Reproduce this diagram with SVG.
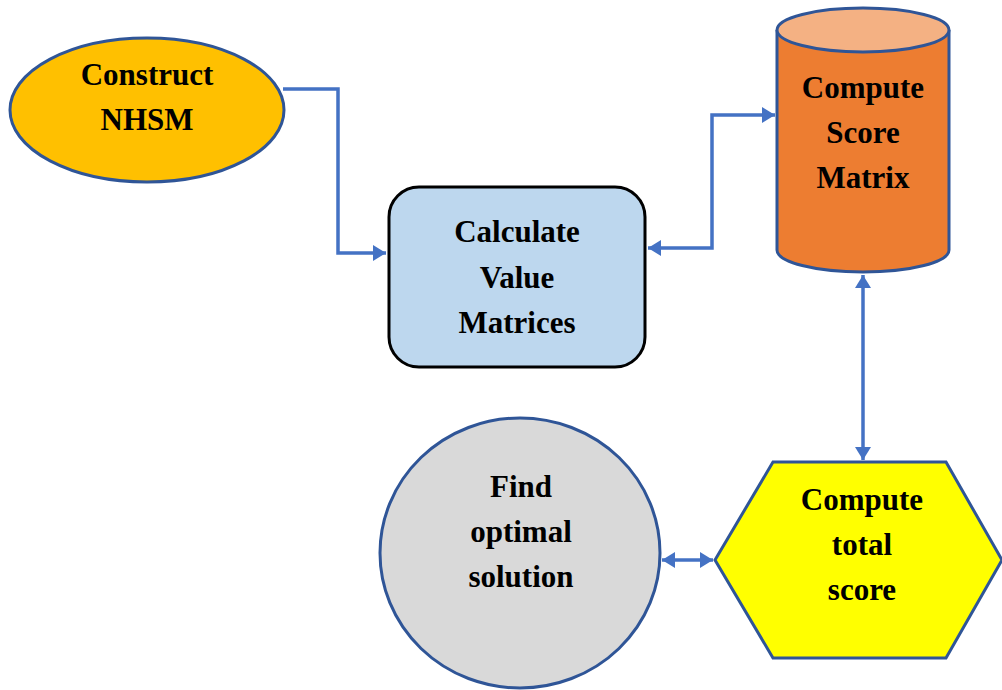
<svg xmlns="http://www.w3.org/2000/svg" width="1002" height="690" viewBox="0 0 1002 690">
<defs>
<style>
.lbl{font-family:"Liberation Serif","Times New Roman",serif;font-weight:bold;font-size:31px;fill:#000;text-anchor:middle}
.node{stroke:#2F5597;stroke-width:3}
.conn{fill:none;stroke:#4472C4;stroke-width:3.5}
</style>
<marker id="arr" markerUnits="userSpaceOnUse" markerWidth="15" markerHeight="17" refX="13" refY="8" orient="auto-start-reverse" viewBox="0 0 15 17">
<path d="M0,0 L13,8 L0,16 z" fill="#4472C4"/>
</marker>
</defs>
<rect width="1002" height="690" fill="#fff"/>
<g id="connectors">
<path class="conn" d="M283,89 H338 V253 H386" marker-end="url(#arr)"/>
<path class="conn" d="M648,248 H712 V115 H775" marker-start="url(#arr)" marker-end="url(#arr)"/>
<path class="conn" d="M863,275 V460" marker-start="url(#arr)" marker-end="url(#arr)"/>
<path class="conn" d="M662,560 H713" marker-start="url(#arr)" marker-end="url(#arr)"/>
</g>
<g id="construct">
<ellipse class="node" cx="147" cy="110" rx="137" ry="72" fill="#FFC000"/>
<text class="lbl" x="147" y="85">Construct</text>
<text class="lbl" x="147" y="130">NHSM</text>
</g>
<g id="calculate">
<rect x="389" y="187" width="256" height="180" rx="30" ry="30" fill="#BDD7EE" stroke="#000" stroke-width="3"/>
<text class="lbl" x="517" y="242">Calculate</text>
<text class="lbl" x="517" y="288">Value</text>
<text class="lbl" x="517" y="333">Matrices</text>
</g>
<g id="scorematrix">
<path class="node" d="M777,30 V250 A86,22 0 0 0 949,250 V30" fill="#ED7D31"/>
<ellipse class="node" cx="863" cy="30" rx="86" ry="22" fill="#F4B183"/>
<text class="lbl" x="863" y="98">Compute</text>
<text class="lbl" x="863" y="143">Score</text>
<text class="lbl" x="863" y="188">Matrix</text>
</g>
<g id="totalscore">
<polygon class="node" points="715,560 773,462 946,462 1002,560 946,658 773,658" fill="#FFFF00"/>
<text class="lbl" x="862" y="510">Compute</text>
<text class="lbl" x="862" y="555">total</text>
<text class="lbl" x="862" y="600">score</text>
</g>
<g id="optimal">
<ellipse class="node" cx="520" cy="553" rx="140" ry="135" fill="#D9D9D9"/>
<text class="lbl" x="521" y="497">Find</text>
<text class="lbl" x="521" y="542">optimal</text>
<text class="lbl" x="521" y="587">solution</text>
</g>
</svg>
